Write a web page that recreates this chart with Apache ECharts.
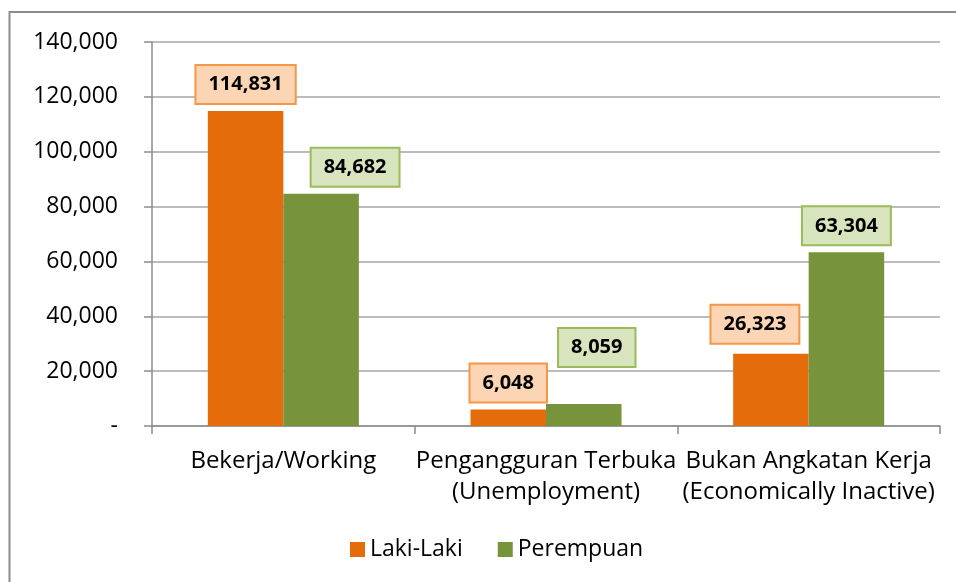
<!DOCTYPE html>
<html lang="id">
<head>
    <meta charset="UTF-8">
    <title>Bekerja / Pengangguran / Bukan Angkatan Kerja</title>
    <style>
        * {
            margin: 0px;
            padding: 0px;
        }

        #main {
            width: 956px;
            height: 582px;
            background-color: #ffffff;
        }
    </style>
</head>
<body>
<div id="main"></div>

<script src="https://cdn.jsdelivr.net/npm/echarts@6/dist/echarts.min.js"></script>
<script type="text/javascript">
    // data
    var categories = ['Bekerja/Working', 'Pengangguran Terbuka\n(Unemployment)', 'Bukan Angkatan Kerja\n(Economically Inactive)'];
    var lakiLaki = [114831, 6048, 26323];
    var perempuan = [84682, 8059, 63304];
    var yTicks = [0, 20000, 40000, 60000, 80000, 100000, 120000, 140000];

    // labels were nudged by hand in the original
    var lakiOffsets = [[0, 0], [0, 0], [-16, -3]];
    var perempuanOffsets = [[34, 0], [13, -30], [0, 0]];

    var FONT = '"Open Sans", "Noto Sans", sans-serif';

    function fmt(v) {
        if (v === 0) return '-';
        return String(v).replace(/\B(?=(\d{3})+(?!\d))/g, ',');
    }

    function items(values, offsets) {
        return values.map(function (v, i) {
            return {value: v, label: {offset: offsets[i]}};
        });
    }

    function boxLabel(bg, border) {
        return {
            show: true,
            position: 'top',
            distance: 8,
            formatter: function (p) { return fmt(p.value); },
            fontFamily: FONT,
            fontWeight: 'bold',
            fontSize: 20,
            lineHeight: 23,
            color: '#000000',
            backgroundColor: bg,
            borderColor: border,
            borderWidth: 2,
            padding: [7, 12, 7, 12]
        };
    }

    var myChart = echarts.init(document.getElementById('main'));
    myChart.setOption({
        animation: false,
        textStyle: {fontFamily: FONT},
        graphic: [{
            type: 'rect',
            shape: {x: 9.5, y: 12, width: 960, height: 600},
            style: {fill: 'none', stroke: '#8c8c8c', lineWidth: 2},
            silent: true
        }],
        grid: {
            left: 152,
            right: 16,
            top: 42,
            bottom: 156
        },
        legend: {
            left: 345,
            top: 533,
            itemWidth: 15,
            itemHeight: 15,
            itemGap: 35,
            icon: 'rect',
            textStyle: {fontFamily: FONT, fontSize: 23, color: '#000000', padding: [0, 0, 0, 0]},
            data: ['Laki-Laki', 'Perempuan']
        },
        xAxis: {
            type: 'category',
            data: categories,
            axisLine: {lineStyle: {color: '#8c8c8c', width: 1.5}},
            axisTick: {show: true, length: 8, lineStyle: {color: '#8c8c8c', width: 1.5}},
            axisLabel: {
                margin: 20,
                fontFamily: FONT,
                fontSize: 24,
                lineHeight: 31,
                color: '#000000',
                interval: 0
            }
        },
        yAxis: {
            type: 'value',
            min: yTicks[0],
            max: yTicks[yTicks.length - 1],
            interval: 20000,
            axisLine: {show: true, lineStyle: {color: '#8c8c8c', width: 1.5}},
            axisTick: {show: true, length: 8, lineStyle: {color: '#8c8c8c', width: 1.5}},
            splitLine: {lineStyle: {color: '#a6a6a6', width: 1.5}},
            axisLabel: {
                margin: 34,
                fontFamily: FONT,
                fontSize: 23,
                color: '#000000',
                formatter: fmt
            }
        },
        series: [
            {
                name: 'Laki-Laki',
                type: 'bar',
                data: items(lakiLaki, lakiOffsets),
                barGap: '0%',
                barCategoryGap: '42.5%',
                itemStyle: {color: '#E46C0A'},
                label: boxLabel('#FCD5B5', '#F79646')
            },
            {
                name: 'Perempuan',
                type: 'bar',
                data: items(perempuan, perempuanOffsets),
                barGap: '0%',
                barCategoryGap: '42.5%',
                itemStyle: {color: '#77933C'},
                label: boxLabel('#D7E4BD', '#9BBB59')
            }
        ]
    });
</script>
</body>
</html>
